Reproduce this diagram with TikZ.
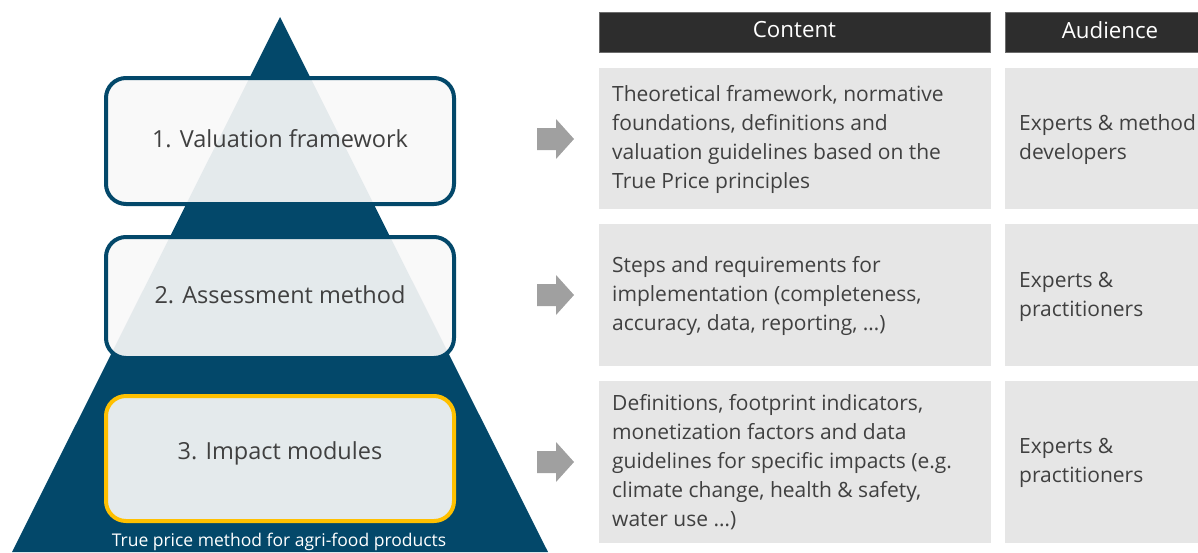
\documentclass[tikz,border=0pt]{standalone}
\usepackage{fontspec}
\setmainfont{Open Sans}
\definecolor{navy}{HTML}{03486A}
\definecolor{gold}{HTML}{FFC000}
\definecolor{hdr}{HTML}{2D2D2D}
\definecolor{cell}{HTML}{E6E6E6}
\definecolor{txt}{HTML}{404040}
\definecolor{arr}{HTML}{A0A0A0}
\definecolor{boxfill}{HTML}{F8F8F8}
\begin{document}
\begin{tikzpicture}[x=1pt,y=-1pt,
  level/.style={draw=navy, line width=4pt, rounded corners=20pt, fill=boxfill,
    fill opacity=0.92, minimum width=348pt},
  leveltext/.style={text=txt, font=\fontsize{23.5}{28}\selectfont},
  hdrbox/.style={fill=hdr, draw=hdr!70!white, line width=0.5pt, inner sep=0pt, anchor=north west, minimum height=40pt},
  hdrtext/.style={text=white, font=\fontsize{22.3}{26}\selectfont},
  cellbox/.style={fill=cell, inner sep=0pt, anchor=north west},
  celltext/.style={anchor=west, align=left, text=txt, inner sep=0pt, font=\fontsize{21}{29}\selectfont},
  garrow/.style={fill=arr},
  foot/.style={text=white, font=\fontsize{17.5}{20}\selectfont}
]
\useasboundingbox (0,0) rectangle (1198,552);
% pyramid
\fill[navy] (280,17) -- (12,552) -- (548,552) -- cycle;
% levels
\node[level, minimum height=126pt] (l1) at (280,141) {};
\node[level, minimum height=121pt] (l2) at (280,297.5) {};
\node[level, draw=gold, minimum height=125pt] (l3) at (280,458.5) {};
\node[leveltext] (l1t) at (280,138.5) {1. Valuation framework};
\node[leveltext] (l2t) at (280,295) {2. Assessment method};
\node[leveltext] (l3t) at (280,453.5) {3. Impact modules};
\node[foot] (ft) at (279,542) {True price method for agri-food products};
% headers
\node[hdrbox, minimum width=391pt] (hc) at (599,12) {};
\node[hdrtext] (hct) at (794.5,30) {Content};
\node[hdrbox, minimum width=200pt] (ha) at (1005,12) {};
\node[hdrtext] (hat) at (1110,30) {Audience};
% cells
\node[cellbox, minimum width=392pt, minimum height=141pt] (c1) at (599,68) {};
\node[cellbox, minimum width=392pt, minimum height=142pt] (c2) at (599,224) {};
\node[cellbox, minimum width=392pt, minimum height=162pt] (c3) at (599,381) {};
\node[cellbox, minimum width=193pt, minimum height=141pt] (a1) at (1005,68) {};
\node[cellbox, minimum width=193pt, minimum height=142pt] (a2) at (1005,224) {};
\node[cellbox, minimum width=193pt, minimum height=162pt] (a3) at (1005,381) {};
\node[celltext] (t1) at (612,139) {Theoretical framework, normative\\foundations, definitions and\\valuation guidelines based on the\\True Price principles};
\node[celltext] (t2) at (612,296) {Steps and requirements for\\implementation (completeness,\\accuracy, data, reporting, …)};
\node[celltext] (t3) at (612,462) {Definitions, footprint indicators,\\monetization factors and data\\guidelines for specific impacts (e.g.\\climate change, health \& safety,\\water use …)};
\node[celltext] (u1) at (1019,139.5) {Experts \& method\\developers};
\node[celltext] (u2) at (1019,296.5) {Experts \&\\practitioners};
\node[celltext] (u3) at (1019,463) {Experts \&\\practitioners};
% arrows
\fill[garrow] (537,128) -- (556,128) -- (556,119) -- (574,139) -- (556,159) -- (556,150) -- (537,150) -- cycle;
\fill[garrow] (537,284) -- (556,284) -- (556,275) -- (574,295) -- (556,315) -- (556,306) -- (537,306) -- cycle;
\fill[garrow] (537,451) -- (556,451) -- (556,442) -- (574,462) -- (556,482) -- (556,473) -- (537,473) -- cycle;
\end{tikzpicture}
\end{document}
